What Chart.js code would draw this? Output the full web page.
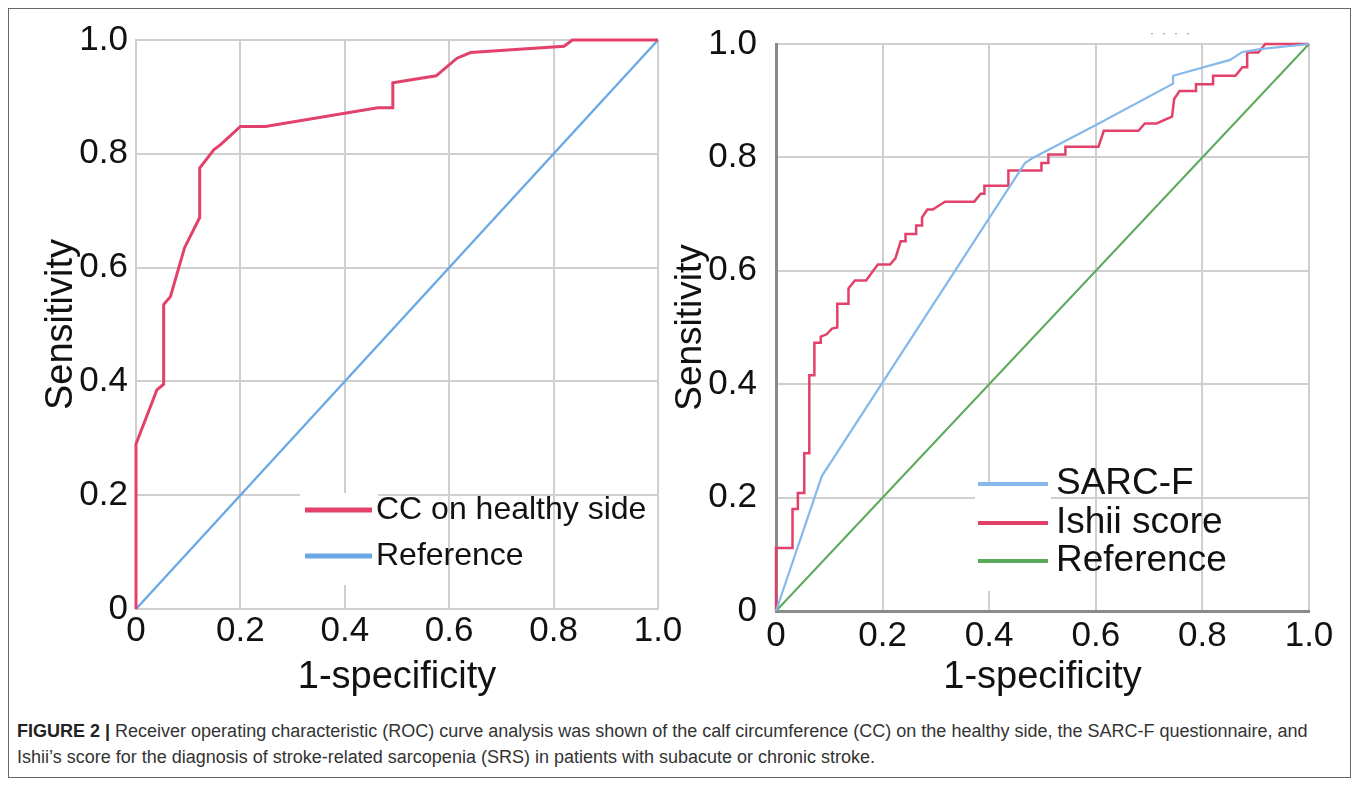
<!DOCTYPE html>
<html>
<head>
<meta charset="utf-8">
<script src="https://cdn.jsdelivr.net/npm/chart.js@4.4.1/dist/chart.umd.min.js"></script>
<style>
  body { margin: 0; background: #fff; width: 1358px; height: 785px; overflow: hidden; position: relative; }
  #frame { position: absolute; left: 8px; top: 8px; width: 1341px; height: 768px; border: 1px solid #666; }
  canvas { position: absolute; }
  #leftChart { left: 10px; top: 10px; }
  #rightChart { left: 669px; top: 4px; }
  #caption { position: absolute; left: 17px; top: 718px; font-family: "Liberation Sans", Arial, sans-serif;
             font-size: 18px; line-height: 26px; color: #333; white-space: nowrap; }
  #caption b { font-weight: bold; color: #222; }
  #dots { position: absolute; left: 1150px; top: 26px; font: 12px "Liberation Sans", sans-serif; color: #777; letter-spacing: 8px; }
</style>
</head>
<body>
<div id="frame"></div>
<canvas id="leftChart" width="680" height="690"></canvas>
<canvas id="rightChart" width="689" height="696"></canvas>
<div id="dots">····</div>
<div id="caption"><b>FIGURE 2 |</b> Receiver operating characteristic (ROC) curve analysis was shown of the calf circumference (CC) on the healthy side, the SARC-F questionnaire, and<br>Ishii’s score for the diagnosis of stroke-related sarcopenia (SRS) in patients with subacute or chronic stroke.</div>
<script>
// tick labels, same on both axes of both panels
const tickValues = [0, 0.2, 0.4, 0.6, 0.8, 1.0];
const tickLabels = ["0", "0.2", "0.4", "0.6", "0.8", "1.0"];

// left panel: CC on healthy side (1-specificity, sensitivity)
const ccFpr = [0, 0, 0.04, 0.053, 0.053, 0.066, 0.093, 0.122, 0.122, 0.149, 0.162, 0.2, 0.248, 0.463, 0.492, 0.492, 0.575, 0.615, 0.641, 0.82, 0.836, 1];
const ccTpr = [0, 0.29, 0.385, 0.395, 0.535, 0.549, 0.635, 0.688, 0.775, 0.807, 0.816, 0.848, 0.848, 0.881, 0.881, 0.925, 0.937, 0.968, 0.978, 0.989, 1, 1];

// right panel: SARC-F
const sarcFpr = [0, 0.086, 0.467, 0.48, 0.602, 0.745, 0.745, 0.852, 0.875, 0.908, 1];
const sarcTpr = [0, 0.238, 0.79, 0.798, 0.858, 0.93, 0.944, 0.972, 0.986, 0.991, 1];

// right panel: Ishii score (step curve)
const ishiiFpr = [0, 0, 0.031, 0.031, 0.041, 0.041, 0.053, 0.053, 0.0625, 0.0625, 0.072, 0.072, 0.084, 0.084, 0.095, 0.105, 0.115, 0.115, 0.136, 0.136, 0.148, 0.169, 0.191, 0.214, 0.224, 0.234, 0.243, 0.243, 0.263, 0.263, 0.274, 0.274, 0.284, 0.294, 0.317, 0.372, 0.384, 0.391, 0.391, 0.436, 0.436, 0.498, 0.498, 0.511, 0.511, 0.543, 0.543, 0.605, 0.615, 0.68, 0.692, 0.714, 0.743, 0.747, 0.757, 0.788, 0.788, 0.82, 0.82, 0.862, 0.875, 0.884, 0.884, 0.905, 0.918, 1];
const ishiiTpr = [0, 0.111, 0.111, 0.18, 0.18, 0.208, 0.208, 0.278, 0.278, 0.416, 0.416, 0.473, 0.473, 0.484, 0.488, 0.498, 0.5, 0.542, 0.542, 0.569, 0.583, 0.583, 0.611, 0.611, 0.622, 0.652, 0.652, 0.665, 0.665, 0.68, 0.68, 0.694, 0.708, 0.708, 0.722, 0.722, 0.736, 0.736, 0.75, 0.75, 0.777, 0.777, 0.79, 0.79, 0.805, 0.805, 0.819, 0.819, 0.847, 0.847, 0.86, 0.86, 0.872, 0.903, 0.917, 0.917, 0.929, 0.929, 0.944, 0.944, 0.959, 0.959, 0.985, 0.985, 1, 1];

// chance diagonal
const refFpr = [0, 1];
const refTpr = [0, 1];

function pts(xs, ys) {
  return xs.map((x, i) => ({ x: x, y: ys[i] }));
}

function fmtTick(v) {
  const i = tickValues.findIndex(t => Math.abs(t - v) < 1e-6);
  return i >= 0 ? tickLabels[i] : "";
}

// white patch behind legend samples + legend drawn inside plot area
const insetLegend = {
  id: "insetLegend",
  beforeDatasetsDraw(chart, args, opts) {
    const a = chart.chartArea, ctx = chart.ctx;
    ctx.save();
    ctx.fillStyle = "#fff";
    ctx.fillRect(a.left + opts.patch[0], a.top + opts.patch[1], opts.patch[2], opts.patch[3]);
    ctx.restore();
  },
  afterDraw(chart, args, opts) {
    const a = chart.chartArea, ctx = chart.ctx;
    ctx.save();
    ctx.font = opts.fontSize + "px 'Liberation Sans', Arial, sans-serif";
    ctx.textBaseline = "middle";
    ctx.fillStyle = "#111";
    opts.order.forEach((di, row) => {
      const ds = chart.data.datasets[di];
      const y = a.top + opts.rows[row];
      ctx.strokeStyle = ds.borderColor;
      ctx.lineWidth = opts.sampleWidth;
      ctx.beginPath();
      ctx.moveTo(a.left + opts.x0, y);
      ctx.lineTo(a.left + opts.x1, y);
      ctx.stroke();
      ctx.fillText(ds.label, a.left + opts.tx, y);
    });
    ctx.restore();
  }
};

function axes(p) {
  const font = { family: "'Liberation Sans', Arial, sans-serif" };
  return {
    x: {
      type: "linear", min: 0, max: 1,
      afterFit: s => { s.height = p.xh; },
      afterBuildTicks: s => { s.ticks = tickValues.map(v => ({ value: v })); },
      grid: { color: "#cfcfcf", lineWidth: 2, drawTicks: false },
      border: { color: p.borderColor, width: p.borderWidth },
      ticks: { color: "#111", padding: p.xpad, maxRotation: 0, callback: fmtTick,
               font: Object.assign({ size: p.tickSize }, font) },
      title: { display: true, text: "1-specificity", color: "#111",
               padding: { top: 0, bottom: 0 }, font: Object.assign({ size: 38 }, font) }
    },
    y: {
      type: "linear", min: 0, max: 1,
      afterFit: s => { s.width = p.yw; },
      afterBuildTicks: s => { s.ticks = tickValues.map(v => ({ value: v })); },
      grid: { color: "#cfcfcf", lineWidth: 2, drawTicks: false },
      border: { color: p.borderColor, width: p.borderWidth },
      ticks: { color: "#111", padding: p.ypad, callback: fmtTick,
               font: Object.assign({ size: p.tickSize }, font) },
      title: { display: true, text: "Sensitivity", color: "#111",
               padding: { top: p.ytitlePad, bottom: 0 }, font: Object.assign({ size: p.ytitleSize }, font) }
    }
  };
}

function lineSet(label, xs, ys, color, width) {
  return { label: label, data: pts(xs, ys), borderColor: color, borderWidth: width,
           showLine: true, pointRadius: 0, tension: 0, fill: false, clip: false };
}

new Chart(document.getElementById("leftChart"), {
  type: "scatter",
  data: {
    datasets: [
      lineSet("CC on healthy side", ccFpr, ccTpr, "#e2416a", 3),
      lineSet("Reference", refFpr, refTpr, "#6aa8e6", 2.4)
    ]
  },
  options: {
    responsive: false, animation: false, devicePixelRatio: 1,
    layout: { padding: { left: 0, top: 30, right: 32, bottom: 0 } },
    scales: axes({ xh: 91, yw: 126, tickSize: 35, xpad: 1, ypad: 8, ytitlePad: 29, ytitleSize: 38,
                   borderColor: "#cfcfcf", borderWidth: 2 }),
    plugins: {
      legend: { display: false }, tooltip: { enabled: false },
      insetLegend: { order: [0, 1], rows: [470, 516], x0: 169, x1: 236, tx: 240,
                     sampleWidth: 5, fontSize: 32, patch: [164, 453, 78, 92] }
    }
  },
  plugins: [insetLegend]
});

new Chart(document.getElementById("rightChart"), {
  type: "scatter",
  data: {
    datasets: [
      lineSet("SARC-F", sarcFpr, sarcTpr, "#86b9ea", 2.2),
      lineSet("Ishii score", ishiiFpr, ishiiTpr, "#e2416a", 2.5),
      lineSet("Reference", refFpr, refTpr, "#5aa95a", 2)
    ]
  },
  options: {
    responsive: false, animation: false, devicePixelRatio: 1,
    layout: { padding: { left: 0, top: 0, right: 49, bottom: 0 } },
    scales: axes({ xh: 89, yw: 107, tickSize: 35, xpad: 4, ypad: 19, ytitlePad: 0, ytitleSize: 37,
                   borderColor: "#8a8a8a", borderWidth: 3 }),
    plugins: {
      legend: { display: false }, tooltip: { enabled: false },
      insetLegend: { order: [0, 1, 2], rows: [440, 479, 517], x0: 202, x1: 272, tx: 280,
                     sampleWidth: 4, fontSize: 37, patch: [199, 438, 76, 109] }
    }
  },
  plugins: [insetLegend]
});
</script>
</body>
</html>
